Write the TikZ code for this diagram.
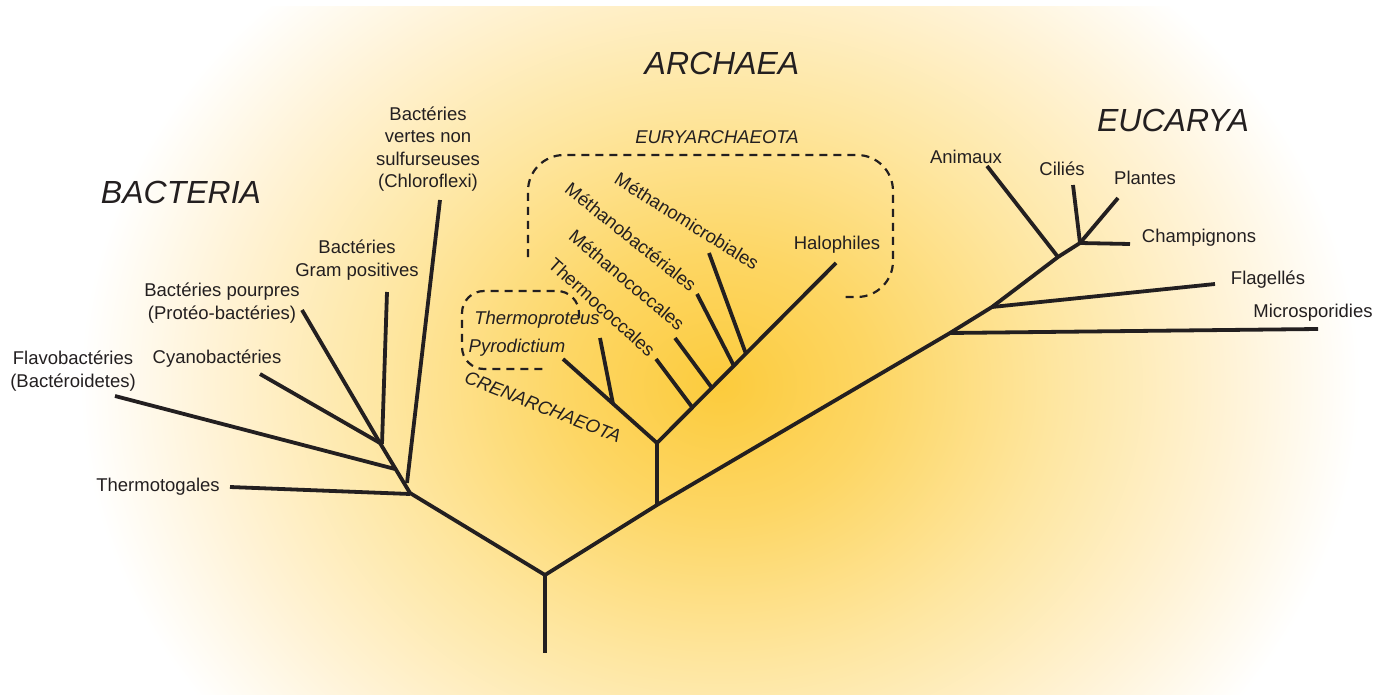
\documentclass[tikz,border=0pt]{standalone}
\usepackage{fontspec}
\setmainfont{Liberation Sans}
\definecolor{ink}{HTML}{231F20}
\definecolor{g0}{RGB}{252,203,60}
\definecolor{g1}{RGB}{253,214,100}
\definecolor{g2}{RGB}{254,230,160}
\definecolor{g3}{RGB}{255,243,215}
\pgfdeclareradialshading{glow}{\pgfpoint{0bp}{0bp}}{color(0bp)=(g0); color(6bp)=(g1); color(13bp)=(g2); color(20bp)=(g3); color(25bp)=(white)}
\begin{document}
\begin{tikzpicture}[x=1pt,y=-1pt,
  lbl/.style={text=ink, font=\fontsize{18.5}{22.5}\selectfont, inner sep=0pt, align=center},
  ilbl/.style={text=ink, font=\fontsize{18.5}{22.5}\selectfont\itshape, inner sep=0pt, align=center},
  big/.style={text=ink, font=\fontsize{32}{36}\selectfont\itshape, inner sep=0pt},
  branch/.style={draw=ink, line width=3.8pt, line join=miter},
  groupline/.style={draw=ink, line width=2.2pt, dash pattern=on 8pt off 6pt}]
\useasboundingbox (0,0) rectangle (1392,695);
\fill[white] (0,0) rectangle (1392,695);
\begin{scope}
  \clip (0,7) rectangle (1392,695);
  \shade[shading=glow] (720,385) ellipse [x radius=640pt, y radius=540pt];
\end{scope}

% coordinates
\coordinate (root) at (545,653);
\coordinate (r0) at (545,575);
\coordinate (b0) at (410,493);
\coordinate (b1) at (380,443);
\coordinate (bth) at (230,487);
\coordinate (bthb) at (410,494);
\coordinate (bcf) at (407,483);
\coordinate (bcft) at (440,200);
\coordinate (bfl) at (395,469);
\coordinate (bflt) at (115,396);
\coordinate (bcy) at (260,374);
\coordinate (bpp) at (302,310);
\coordinate (bgpb) at (382,444);
\coordinate (bgp) at (387,292);
\coordinate (a0) at (657,505);
\coordinate (a1) at (657,443);
\coordinate (cren) at (563,359);
\coordinate (ctp) at (613,404);
\coordinate (ctpt) at (600,338);
\coordinate (ehal) at (836,263);
\coordinate (etc) at (692,407);
\coordinate (etct) at (656,359);
\coordinate (emc) at (712,388);
\coordinate (emct) at (675,338);
\coordinate (emb) at (734,366);
\coordinate (embt) at (697,294);
\coordinate (emm) at (746,354);
\coordinate (emmt) at (709,253);
\coordinate (e1) at (950,333);
\coordinate (e1t) at (1318,329);
\coordinate (e2) at (992,307);
\coordinate (e2t) at (1215,284);
\coordinate (e3) at (1058,257);
\coordinate (e3t) at (987,166);
\coordinate (e4) at (1080,243);
\coordinate (cil) at (1073,185);
\coordinate (pla) at (1118,198);
\coordinate (cha) at (1130,244);

% dashed groups
\draw[groupline, rounded corners=36pt] (528,257) -- (528,155) -- (893,155) -- (893,297) -- (843,297);
\draw[groupline, rounded corners=22pt] (579,318) -- (579,291) -- (462,291) -- (462,369) -- (548,369);

% tree
\draw[branch] (b1) -- (b0) -- (r0) -- (a0) -- (e1) -- (e2) -- (e3) -- (e4);
\draw[branch] (r0) -- (root);
\draw[branch] (bth) -- (bthb);
\draw[branch] (bcf) -- (bcft);
\draw[branch] (bfl) -- (bflt);
\draw[branch] (b1) -- (bcy);
\draw[branch] (b1) -- (bpp);
\draw[branch] (bgpb) -- (bgp);
\draw[branch] (a0) -- (a1);
\draw[branch] (cren) -- (a1) -- (ehal);
\draw[branch] (ctp) -- (ctpt);
\draw[branch] (etc) -- (etct);
\draw[branch] (emc) -- (emct);
\draw[branch] (emb) -- (embt);
\draw[branch] (emm) -- (emmt);
\draw[branch] (e1) -- (e1t);
\draw[branch] (e2) -- (e2t);
\draw[branch] (e3) -- (e3t);
\draw[branch] (e4) -- (cil);
\draw[branch] (e4) -- (pla);
\draw[branch] (e4) -- (cha);

% big titles
\node[big] (tbac) at (181,192) {BACTERIA};
\node[big] (tarc) at (722,63) {ARCHAEA};
\node[big] (teuc) at (1173,120) {EUCARYA};

% bacteria labels
\node[lbl] (lth) at (158,487) {Thermotogales};
\node[lbl] (lfl) at (73,371) {Flavobactéries\\(Bactéroidetes)};
\node[lbl] (lcy) at (217,359) {Cyanobactéries};
\node[lbl] (lpp) at (222,303) {Bactéries pourpres\\(Protéo-bactéries)};
\node[lbl] (lgp) at (357,260) {Bactéries\\Gram positives};
\node[lbl] (lcf) at (428,149) {Bactéries\\vertes non\\sulfurseuses\\(Chloroflexi)};

% archaea labels
\node[ilbl] (leur) at (717,137) {EURYARCHAEOTA};
\node[ilbl, rotate=-21.5] (lcre) at (543,407) {CRENARCHAEOTA};
\node[ilbl] (ltp) at (537,320) {Thermoproteus};
\node[ilbl] (lpy) at (517,348) {Pyrodictium};
\node[lbl] (lhal) at (837,245) {Halophiles};
\node[lbl, rotate=-32] (lmm) at (687,221) {Méthanomicrobiales};
\node[lbl, rotate=-38.6] (lmb) at (631,237) {Méthanobactériales};
\node[lbl, rotate=-40] (lmc) at (627,280) {Méthanococcales};
\node[lbl, rotate=-42] (ltc) at (602,307) {Thermococcales};

% eucarya labels
\node[lbl] (lan) at (966,157) {Animaux};
\node[lbl] (lci) at (1062,169) {Ciliés};
\node[lbl] (lpl) at (1145,178) {Plantes};
\node[lbl] (lch) at (1199,238) {Champignons};
\node[lbl] (lfg) at (1268,280) {Flagellés};
\node[lbl] (lmi) at (1313,313) {Microsporidies};
\end{tikzpicture}
\end{document}
